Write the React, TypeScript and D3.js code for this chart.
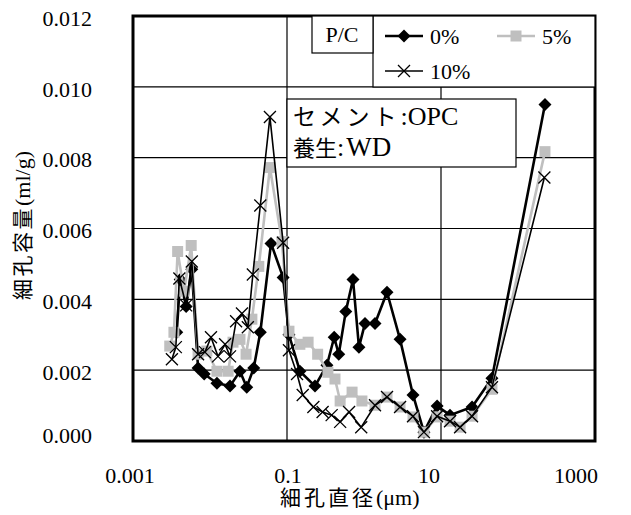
import React, { useEffect, useRef } from 'react';
import * as d3 from 'd3';

// pore diameter (µm) / pore volume (ml/g)
const diam0 = [0.0037, 0.0041, 0.0049, 0.0058, 0.0070, 0.0084, 0.0123, 0.0182, 0.0245, 0.030, 0.037, 0.045, 0.062, 0.089, 0.106, 0.147, 0.231, 0.33, 0.41, 0.47, 0.58, 0.72, 0.86, 1.03, 1.39, 1.99, 2.94, 4.33, 6.0, 8.9, 13.1, 25.3, 45.9, 224];
const vol0 = [0.00307, 0.00456, 0.0038, 0.00485, 0.00206, 0.00189, 0.00163, 0.00155, 0.00197, 0.00152, 0.00206, 0.00307, 0.00558, 0.00462, 0.0030, 0.00197, 0.00155, 0.00214, 0.00293, 0.00245, 0.00366, 0.00456, 0.00265, 0.00332, 0.00332, 0.0042, 0.00287, 0.0013, 0.00025, 0.00099, 0.00073, 0.00096, 0.00177, 0.0095];

const diam5 = [0.0030, 0.0034, 0.0038, 0.0046, 0.0057, 0.0070, 0.0091, 0.0123, 0.0172, 0.0199, 0.0245, 0.0294, 0.035, 0.043, 0.060, 0.086, 0.106, 0.147, 0.188, 0.25, 0.34, 0.42, 0.49, 0.70, 0.94, 1.39, 1.99, 2.94, 4.33, 6.0, 8.9, 13.1, 17.7, 25.3, 45.9, 224];
const vol5 = [0.00268, 0.00307, 0.00535, 0.00423, 0.00552, 0.00245, 0.00254, 0.00197, 0.00197, 0.00279, 0.00287, 0.00245, 0.00344, 0.00493, 0.00772, 0.00563, 0.0031, 0.00273, 0.00279, 0.00245, 0.00194, 0.00175, 0.00113, 0.00138, 0.00113, 0.00101, 0.00124, 0.00096, 0.00068, 0.00025, 0.00068, 0.00056, 0.00039, 0.0007, 0.00146, 0.00817];

const diam10 = [0.0032, 0.0036, 0.0040, 0.0049, 0.0058, 0.0070, 0.0086, 0.0103, 0.0127, 0.0157, 0.0182, 0.0218, 0.026, 0.031, 0.036, 0.045, 0.060, 0.089, 0.106, 0.135, 0.16, 0.22, 0.29, 0.38, 0.49, 0.64, 0.92, 1.39, 1.99, 2.94, 4.33, 6.0, 8.9, 13.1, 17.7, 25.3, 45.9, 220];
const vol10 = [0.00231, 0.00265, 0.00459, 0.00383, 0.00507, 0.00245, 0.00251, 0.00293, 0.00239, 0.00273, 0.00239, 0.00338, 0.0036, 0.00321, 0.0047, 0.00665, 0.00915, 0.0056, 0.00256, 0.00189, 0.0013, 0.00096, 0.00082, 0.00073, 0.00054, 0.00082, 0.00039, 0.00101, 0.00124, 0.00096, 0.0007, 0.00025, 0.0007, 0.00056, 0.00039, 0.0007, 0.00152, 0.00744];

const seriesNames = ['0%', '5%', '10%'];
const xTicks = [0.001, 0.1, 10, 1000];
const xTickLabels = ['0.001', '0.1', '10', '1000'];
const yTicks = [0, 0.002, 0.004, 0.006, 0.008, 0.010, 0.012];

const W = 631;
const H = 515;
const FONT = '"Liberation Serif", "Times New Roman", "Noto Sans CJK JP", serif';

export default function App() {
  const svgRef = useRef<SVGSVGElement>(null);

  useEffect(() => {
    const svg = d3.select(svgRef.current);
    svg.selectAll('*').remove();

    const m = { left: 133, right: 595, top: 16, bottom: 441 };

    const x = d3.scaleLog().domain([0.001, 1000]).range([m.left, m.right]);
    const y = d3.scaleLinear().domain([0, 0.012]).range([m.bottom, m.top]);

    svg.append('rect').attr('width', W).attr('height', H).attr('fill', '#fff');

    // gridlines
    const g = svg.append('g');
    g.selectAll('line.hg')
      .data(yTicks.slice(1, -1))
      .join('line')
      .attr('x1', m.left).attr('x2', m.right)
      .attr('y1', d => y(d)).attr('y2', d => y(d))
      .attr('stroke', '#000').attr('stroke-width', 1.2);
    g.selectAll('line.vg')
      .data(xTicks.slice(1, -1))
      .join('line')
      .attr('x1', d => x(d)).attr('x2', d => x(d))
      .attr('y1', m.top).attr('y2', m.bottom)
      .attr('stroke', '#000').attr('stroke-width', 1.2);

    // tick labels
    svg.selectAll('text.yt')
      .data(yTicks)
      .join('text')
      .attr('x', m.left - 41)
      .attr('y', (d, i) => y(d) + (i === 0 ? -6 : 2))
      .attr('dy', '0.35em')
      .attr('text-anchor', 'end')
      .style('font-family', FONT)
      .style('font-size', '22px')
      .text(d => d.toFixed(3));

    const labelShift = [-3, 1, -12, -19];
    svg.selectAll('text.xt')
      .data(xTicks)
      .join('text')
      .attr('x', (d, i) => x(d) + labelShift[i])
      .attr('y', 483)
      .attr('text-anchor', 'middle')
      .style('font-family', FONT)
      .style('font-size', '22px')
      .text((d, i) => xTickLabels[i]);

    const xt = svg.append('text')
      .attr('x', 280)
      .attr('y', 505)
      .style('font-family', FONT)
      .style('font-size', '21px');
    xt.append('tspan').attr('letter-spacing', 3).text('細孔直径');
    xt.append('tspan').attr('font-size', 22).text('(μm)');

    const yt = svg.append('text')
      .attr('transform', 'translate(30,300) rotate(-90)')
      .style('font-family', FONT)
      .style('font-size', '21px');
    yt.append('tspan').attr('letter-spacing', 2.5).text('細孔容量');
    yt.append('tspan').attr('font-size', 22).text('(ml/g)');

    svg.append('clipPath').attr('id', 'plotclip')
      .append('rect')
      .attr('x', m.left).attr('y', m.top)
      .attr('width', m.right - m.left).attr('height', m.bottom - m.top);

    const line = d3.line<[number, number]>()
      .x(d => x(d[0]))
      .y(d => y(d[1]));

    const diamond = (s: number) => `M0,${-s}L${s},0L0,${s}L${-s},0Z`;
    const square = (s: number) => `M${-s},${-s}H${s}V${s}H${-s}Z`;
    const cross = (s: number) => `M${-s},${-s}L${s},${s}M${-s},${s}L${s},${-s}`;

    const series = [
      { pts: diam0.map((d, i) => [d, vol0[i]] as [number, number]), color: '#000', lw: 2.6, marker: diamond(6.5), fill: '#000', mstroke: 'none', msw: 0 },
      { pts: diam5.map((d, i) => [d, vol5[i]] as [number, number]), color: '#bfbfbf', lw: 2.6, marker: square(5.5), fill: '#bfbfbf', mstroke: 'none', msw: 0 },
      { pts: diam10.map((d, i) => [d, vol10[i]] as [number, number]), color: '#000', lw: 1.6, marker: cross(6), fill: 'none', mstroke: '#000', msw: 1.3 },
    ];

    const plot = svg.append('g').attr('clip-path', 'url(#plotclip)');
    series.forEach(s => {
      plot.append('path')
        .datum(s.pts)
        .attr('d', line)
        .attr('fill', 'none')
        .attr('stroke', s.color)
        .attr('stroke-width', s.lw)
        .attr('stroke-linejoin', 'round');
      plot.selectAll(null)
        .data(s.pts)
        .join('path')
        .attr('transform', d => `translate(${x(d[0])},${y(d[1])})`)
        .attr('d', s.marker)
        .attr('fill', s.fill)
        .attr('stroke', s.mstroke)
        .attr('stroke-width', s.msw);
    });

    // frame
    svg.append('rect')
      .attr('x', m.left).attr('y', m.top)
      .attr('width', m.right - m.left).attr('height', m.bottom - m.top)
      .attr('fill', 'none').attr('stroke', '#000').attr('stroke-width', 3);

    // legend
    const leg = svg.append('g');
    leg.append('rect')
      .attr('x', 373).attr('y', m.top).attr('width', m.right - 373).attr('height', 71)
      .attr('fill', '#fff').attr('stroke', '#000').attr('stroke-width', 1.2);
    leg.append('rect')
      .attr('x', 312).attr('y', m.top).attr('width', 61).attr('height', 37)
      .attr('fill', '#fff').attr('stroke', '#000').attr('stroke-width', 1.2);
    leg.append('text')
      .attr('x', 342).attr('y', 42)
      .attr('text-anchor', 'middle')
      .style('font-family', FONT).style('font-size', '22px')
      .text('P/C');
    const legPos = [[385, 36], [497, 36], [385, 71]];
    series.forEach((s, i) => {
      const [lx, ly] = legPos[i];
      leg.append('line')
        .attr('x1', lx).attr('x2', lx + 38).attr('y1', ly).attr('y2', ly)
        .attr('stroke', s.color).attr('stroke-width', s.lw);
      leg.append('path')
        .attr('transform', `translate(${lx + 19},${ly})`)
        .attr('d', s.marker)
        .attr('fill', s.fill).attr('stroke', s.mstroke).attr('stroke-width', s.msw);
      leg.append('text')
        .attr('x', lx + 45).attr('y', ly + 8)
        .style('font-family', FONT).style('font-size', '22px')
        .text(seriesNames[i]);
    });

    // annotation
    svg.append('rect')
      .attr('x', 287).attr('y', 99).attr('width', 229).attr('height', 68)
      .attr('fill', '#fff').attr('stroke', '#000').attr('stroke-width', 1.2);
    const a1 = svg.append('text')
      .attr('x', 293).attr('y', 125)
      .style('font-family', FONT).style('font-size', '23px');
    a1.append('tspan').attr('letter-spacing', 4).text('セメント');
    a1.append('tspan').attr('font-size', 26).text(':OPC');
    const a2 = svg.append('text')
      .attr('x', 293).attr('y', 156)
      .style('font-family', FONT).style('font-size', '22px');
    a2.append('tspan').text('養生');
    a2.append('tspan').attr('font-size', 26).text(':');
    a2.append('tspan').attr('font-size', 27).attr('dx', 2).text('WD');
  }, []);

  return (
    <svg ref={svgRef} width={W} height={H} style={{ position: 'absolute', left: 0, top: 0 }} />
  );
}
